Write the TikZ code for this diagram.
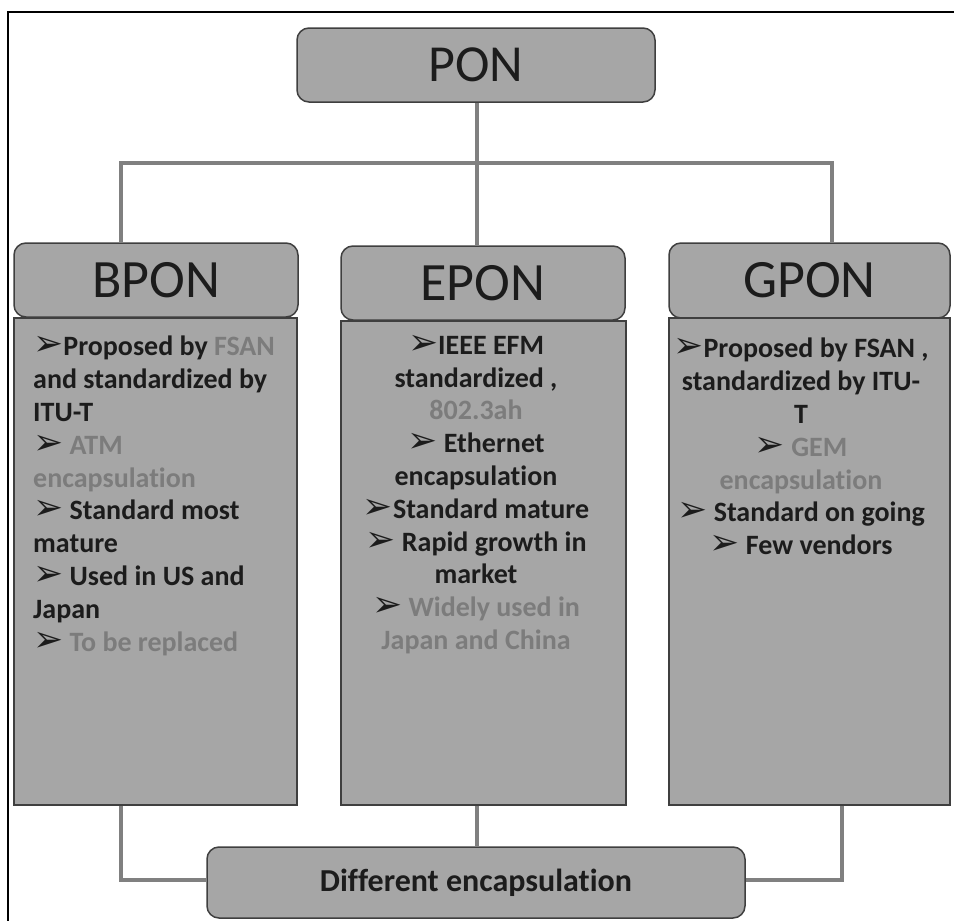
\documentclass[tikz,border=0pt]{standalone}
\usepackage{fontspec}
\setmainfont{Carlito}[Ligatures=NoCommon]
\newfontfamily\symfont{DejaVu Sans}
\definecolor{boxfill}{HTML}{A6A6A6}
\definecolor{boxline}{HTML}{3F3F3F}
\definecolor{linkgray}{HTML}{808080}
\definecolor{softtext}{HTML}{7C7C7C}
\definecolor{inktext}{HTML}{1C1C1C}
% bullet arrow and softened (grey) text
\newcommand\bul{\smash{{\color{inktext}\symfont\bfseries\fontsize{36}{36}\selectfont ➢}}}
\newcommand\soft[1]{\textcolor{softtext}{#1}}
\begin{document}
\begin{tikzpicture}[x=1pt,y=-1pt,
  headbox/.style={draw=boxline, line width=1.5pt, fill=boxfill, rounded corners=12pt, inner sep=0pt, text=inktext},
  bodybox/.style={draw=boxline, line width=1.5pt, fill=boxfill, inner sep=0pt},
  bodytext/.style={font=\fontsize{28}{32.8}\selectfont\bfseries, inner sep=0pt, text=inktext},
  link/.style={draw=linkgray, line width=4pt},
]
\useasboundingbox (0,0) rectangle (954,921);
% outer frame
\draw[black, line width=2pt] (8,921) -- (8,12) -- (954,12);

% root
\node[headbox, minimum width=358pt, minimum height=74pt, font=\fontsize{52}{56}\selectfont] (pon) at (476,65) {PON};

% branch headers
\node[headbox, minimum width=284pt, minimum height=74pt, font=\fontsize{54}{58}\selectfont] (bponh) at (156,280) {BPON};
\node[headbox, minimum width=284pt, minimum height=74pt, font=\fontsize{54}{58}\selectfont] (eponh) at (483,283) {EPON};
\node[headbox, minimum width=281pt, minimum height=75pt, font=\fontsize{54}{58}\selectfont] (gponh) at (809.5,280.5) {GPON};

% branch bodies
\node[bodybox, minimum width=283pt, minimum height=487pt] (bponb) at (155.5,561.5) {};
\node[bodybox, minimum width=285pt, minimum height=484pt] (eponb) at (483.5,563) {};
\node[bodybox, minimum width=281pt, minimum height=487pt] (gponb) at (809.5,561.5) {};

% bottom summary
\node[headbox, minimum width=538pt, minimum height=71pt, font=\fontsize{32}{36}\selectfont\bfseries] (diff) at (476,882.5) {Different encapsulation};

% body texts
\node[bodytext, anchor=north west, align=left] (bpont) at (33,336) {%
\bul Proposed by \soft{FSAN}\\
and standardized by\\
ITU-T\\
\bul\ \soft{ATM}\\
\soft{encapsulation}\\
\bul\ Standard most\\
mature\\
\bul\ Used in US and\\
Japan\\
\bul\ \soft{To be replaced}};

\node[bodytext, anchor=north, align=center] (epont) at (476,336) {%
\bul IEEE EFM\\
standardized ,\\
\soft{802.3ah}\\
\bul\ Ethernet\\
encapsulation\\
\bul Standard mature\\
\bul\ Rapid growth in\\
market\\
\bul\ \soft{Widely used in}\\
\soft{Japan and China}};

\node[bodytext, anchor=north, align=center] (gpont) at (801,338) {%
\bul Proposed by FSAN ,\\
standardized by ITU-\\
T\\
\bul\ \soft{GEM}\\
\soft{encapsulation}\\
\bul\ Standard on going\\
\bul\ Few vendors};

% connectors
\coordinate (busL) at (121,163);
\coordinate (busR) at (832,163);
\coordinate (busM) at (477,163);
\coordinate (jL) at (121,880);
\coordinate (jR) at (842,880);
\coordinate (jM) at (477,880);

\draw[link] (pon.south -| busM) -- (eponh.north -| busM);
\draw[link] (busL |- bponh.north) -- (busL) -- (busR) -- (busR |- gponh.north);
\draw[link] (bponb.south -| jL) -- (jL) -- (diff.west |- jL);
\draw[link] (gponb.south -| jR) -- (jR) -- (diff.east |- jR);
\draw[link] (eponb.south -| jM) -- (diff.north -| jM);
\end{tikzpicture}
\end{document}
